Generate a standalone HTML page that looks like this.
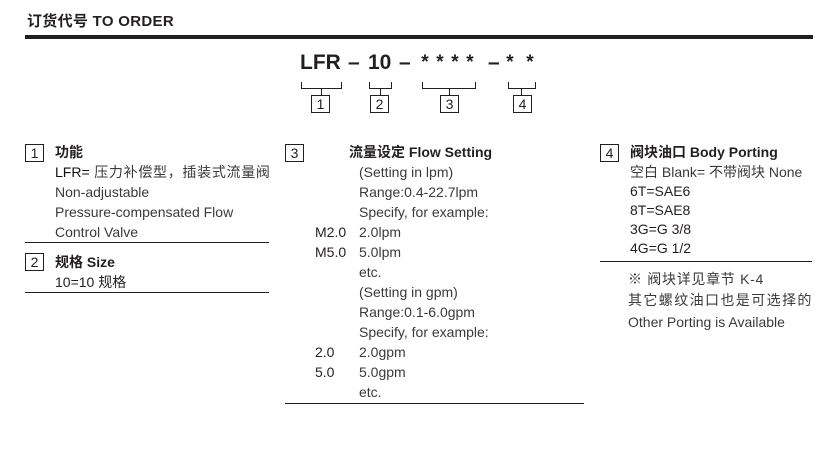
<!DOCTYPE html>
<html><head><meta charset="utf-8"><style>
body{margin:0;width:815px;height:449px;background:#fff;position:relative;overflow:hidden;font-family:"Liberation Sans","Noto Sans CJK SC",sans-serif;color:#231f20}
.t{position:absolute;font-size:14px;line-height:16px;white-space:nowrap}
.g{color:#3a3a3a}
.b{font-weight:bold}
.c{letter-spacing:0.7px}
.box{position:absolute;width:17px;height:16px;border:1px solid #231f20;font-size:14px;line-height:16px;text-align:center}
.hl{position:absolute;height:1px;background:#231f20}
.s{position:absolute;font-weight:bold;font-size:19px;line-height:20px;top:53px;width:12px;text-align:center}
</style></head><body>
<div class="t b" style="left:27px;top:14px;font-size:15px;letter-spacing:0.3px">订货代号 TO ORDER</div>
<div class="hl" style="left:25px;top:35px;width:788px;height:4px"></div>

<div class="t b" style="left:300px;top:51px;font-size:21px;line-height:24px">LFR</div>
<div class="t b" style="left:348px;top:51px;font-size:21px;line-height:24px">–</div>
<div class="t b" style="left:368px;top:51px;font-size:21px;line-height:24px">10</div>
<div class="t b" style="left:399px;top:51px;font-size:21px;line-height:24px">–</div>
<div class="s" style="left:419px">*</div>
<div class="s" style="left:434px">*</div>
<div class="s" style="left:449px">*</div>
<div class="s" style="left:464px">*</div>
<div class="t b" style="left:488px;top:51px;font-size:21px;line-height:24px">–</div>
<div class="s" style="left:504px">*</div>
<div class="s" style="left:524px">*</div>

<svg style="position:absolute;left:0;top:0" width="815" height="449">
<g fill="none" stroke="#231f20" stroke-width="1">
<path d="M301.5 82v6.5h40v-6.5M321.5 88.5v7"/>
<path d="M369.5 82v6.5h22v-6.5M380.5 88.5v7"/>
<path d="M422.5 82v6.5h53v-6.5M449.5 88.5v7"/>
<path d="M508.5 82v6.5h27v-6.5M521.5 88.5v7"/>
</g></svg>
<div class="box" style="left:311px;top:95px">1</div>
<div class="box" style="left:370px;top:95px">2</div>
<div class="box" style="left:440px;top:95px">3</div>
<div class="box" style="left:513px;top:95px">4</div>

<!-- col 1 -->
<div class="box" style="left:25px;top:144px">1</div>
<div class="t b" style="left:55px;top:144px">功能</div>
<div class="t g c" style="left:55px;top:164px"><span style="color:#111;letter-spacing:0">LFR=</span> 压力补偿型，插装式流量阀</div>
<div class="t g" style="left:55px;top:184px">Non-adjustable</div>
<div class="t g" style="left:55px;top:204px">Pressure-compensated Flow</div>
<div class="t g" style="left:55px;top:224px">Control Valve</div>
<div class="hl" style="left:25px;top:242px;width:244px"></div>
<div class="box" style="left:25px;top:253px">2</div>
<div class="t b" style="left:55px;top:254px">规格 Size</div>
<div class="t" style="left:55px;top:274px">10=10 规格</div>
<div class="hl" style="left:25px;top:292px;width:244px"></div>

<!-- col 3 -->
<div class="box" style="left:285px;top:144px">3</div>
<div class="t b" style="left:349px;top:144px">流量设定 Flow Setting</div>
<div class="t g" style="left:359px;top:164px">(Setting in lpm)</div>
<div class="t g" style="left:359px;top:184px">Range:0.4-22.7lpm</div>
<div class="t g" style="left:359px;top:204px">Specify, for example:</div>
<div class="t" style="left:315px;top:224px">M2.0</div><div class="t g" style="left:359px;top:224px">2.0lpm</div>
<div class="t" style="left:315px;top:244px">M5.0</div><div class="t g" style="left:359px;top:244px">5.0lpm</div>
<div class="t g" style="left:359px;top:264px">etc.</div>
<div class="t g" style="left:359px;top:284px">(Setting in gpm)</div>
<div class="t g" style="left:359px;top:304px">Range:0.1-6.0gpm</div>
<div class="t g" style="left:359px;top:324px">Specify, for example:</div>
<div class="t" style="left:315px;top:344px">2.0</div><div class="t g" style="left:359px;top:344px">2.0gpm</div>
<div class="t" style="left:315px;top:364px">5.0</div><div class="t g" style="left:359px;top:364px">5.0gpm</div>
<div class="t g" style="left:359px;top:384px">etc.</div>
<div class="hl" style="left:285px;top:403px;width:299px"></div>

<!-- col 4 -->
<div class="box" style="left:600px;top:144px">4</div>
<div class="t b" style="left:630px;top:144px">阀块油口 Body Porting</div>
<div class="t g" style="left:630px;top:164px">空白 Blank= 不带阀块 None</div>
<div class="t" style="left:630px;top:183px">6T=SAE6</div>
<div class="t" style="left:630px;top:202px">8T=SAE8</div>
<div class="t" style="left:630px;top:221px">3G=G 3/8</div>
<div class="t" style="left:630px;top:240px">4G=G 1/2</div>
<div class="hl" style="left:600px;top:261px;width:212px"></div>
<div class="t g c" style="left:628px;top:271px">※ 阀块详见章节 K-4</div>
<div class="t g" style="left:628px;top:292px;letter-spacing:1.4px">其它螺纹油口也是可选择的</div>
<div class="t g" style="left:628px;top:314px">Other Porting is Available</div>
</body></html>
